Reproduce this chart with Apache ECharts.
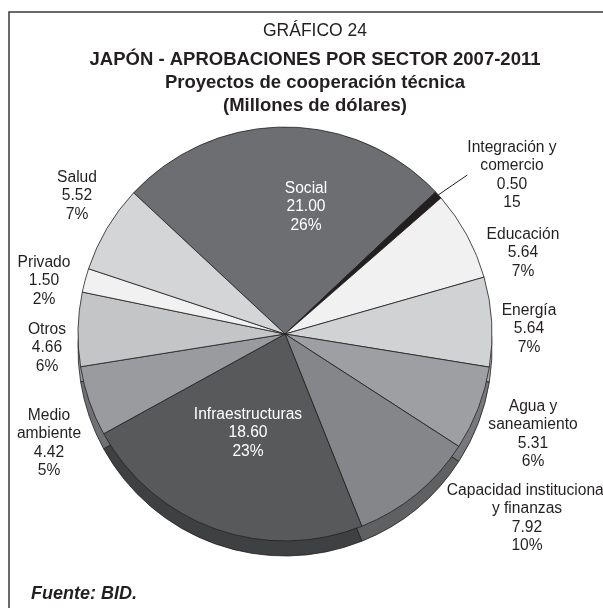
<!DOCTYPE html>
<html>
<head>
<meta charset="utf-8">
<script src="https://cdn.jsdelivr.net/npm/echarts@6/dist/echarts.min.js"></script>
<style>
  html, body { margin: 0; padding: 0; background: #ffffff; }
  #chart { width: 603px; height: 608px; }
</style>
</head>
<body>
<div id="chart"></div>
<script>
// Sectors, clockwise from "Social"
const sectors = [
  'Social',
  'Integración y\ncomercio',
  'Educación',
  'Energía',
  'Agua y\nsaneamiento',
  'Capacidad institucional\ny finanzas',
  'Infraestructuras',
  'Medio\nambiente',
  'Otros',
  'Privado',
  'Salud'
];
// Approvals, millions of dollars
const amounts = [21.00, 0.50, 5.64, 5.64, 5.31, 7.92, 18.60, 4.42, 4.66, 1.50, 5.52];
// Share text printed differently from the computed percentage
const shareOverride = { 'Integración y\ncomercio': '15' };

const FONT = '"Liberation Sans", Arial, Helvetica, sans-serif';
const INK = '#231f20';

const faceColors = ['#6d6e71', '#231f20', '#f1f1f2', '#d1d2d4', '#9d9fa2', '#858689',
                    '#58595b', '#9a9b9e', '#c4c5c7', '#f1f1f2', '#d4d5d7'];
const sideColors = ['#4f5052', '#111111', '#c9cacc', '#a9aaac', '#77787b', '#5f6062',
                    '#3f4042', '#707174', '#98999c', '#c9cacc', '#aaabad'];
const whiteText = { 'Social': true, 'Infraestructuras': true };

// label block centres
const labelSpots = [
  [306, 207], [512, 175], [523, 253], [529, 329], [533, 434], [527, 518],
  [248, 433], [49, 443], [47, 348], [44, 281], [77, 196]
];

const CX = 285, CY = 334, R = 207, DEPTH = 15;

const chart = echarts.init(document.getElementById('chart'), null, { renderer: 'canvas' });

const faceData = sectors.map((name, i) => {
  const item = {
    name: name,
    value: amounts[i],
    itemStyle: { color: faceColors[i] },
    label: { color: whiteText[name] ? '#ffffff' : INK }
  };
  if (name.indexOf('Integración') === 0) {
    item.labelLine = { show: true, length: 30, length2: 0, lineStyle: { color: INK, width: 1 } };
  }
  return item;
});

const sideData = sectors.map((name, i) => ({
  name: name,
  value: amounts[i],
  itemStyle: { color: sideColors[i] }
}));

const option = {
  backgroundColor: '#ffffff',
  animation: false,
  title: [
    { text: 'GRÁFICO 24', left: 310, top: 17, textAlign: 'center',
      textStyle: { fontFamily: FONT, fontSize: 17.5, fontWeight: 'normal', color: INK } },
    { text: 'JAPÓN - APROBACIONES POR SECTOR 2007-2011', left: 310, top: 45, textAlign: 'center',
      textStyle: { fontFamily: FONT, fontSize: 18.5, fontWeight: 'bold', color: INK } },
    { text: 'Proyectos de cooperación técnica', left: 310, top: 68, textAlign: 'center',
      textStyle: { fontFamily: FONT, fontSize: 18.5, fontWeight: 'bold', color: INK } },
    { text: '(Millones de dólares)', left: 310, top: 91, textAlign: 'center',
      textStyle: { fontFamily: FONT, fontSize: 18.5, fontWeight: 'bold', color: INK } },
    { text: 'Fuente: BID.', left: 26, top: 580,
      textStyle: { fontFamily: FONT, fontSize: 18, fontWeight: 'bold', fontStyle: 'italic', color: INK } }
  ],
  graphic: [
    { type: 'rect', shape: { x: 9, y: 12, width: 640, height: 640 }, silent: true,
      style: { fill: 'none', stroke: '#3a3a3a', lineWidth: 1.5 }, z: -10 }
  ],
  series: [
    {
      // pie thickness, drawn underneath and shifted down
      type: 'pie',
      silent: true,
      center: [CX, CY + DEPTH],
      radius: [0, R],
      startAngle: 137,
      clockwise: true,
      z: 1,
      label: { show: false },
      labelLine: { show: false },
      itemStyle: { borderColor: INK, borderWidth: 0.8 },
      data: sideData
    },
    {
      type: 'pie',
      center: [CX, CY],
      radius: [0, R],
      startAngle: 137,
      clockwise: true,
      percentPrecision: 0,
      avoidLabelOverlap: false,
      z: 2,
      itemStyle: { borderColor: INK, borderWidth: 0.8 },
      emphasis: { disabled: true },
      label: {
        show: true,
        position: 'outside',
        fontFamily: FONT,
        fontSize: 15.6,
        lineHeight: 18.5,
        align: 'center',
        formatter: (p) => {
          const share = shareOverride[p.name] !== undefined ? shareOverride[p.name] : p.percent + '%';
          return p.name + '\n' + p.value.toFixed(2) + '\n' + share;
        }
      },
      labelLine: { show: false },
      labelLayout: (p) => {
        const s = labelSpots[p.dataIndex];
        return { x: s[0], y: s[1], align: 'center', verticalAlign: 'middle' };
      },
      data: faceData
    }
  ]
};

chart.setOption(option);
</script>
</body>
</html>
